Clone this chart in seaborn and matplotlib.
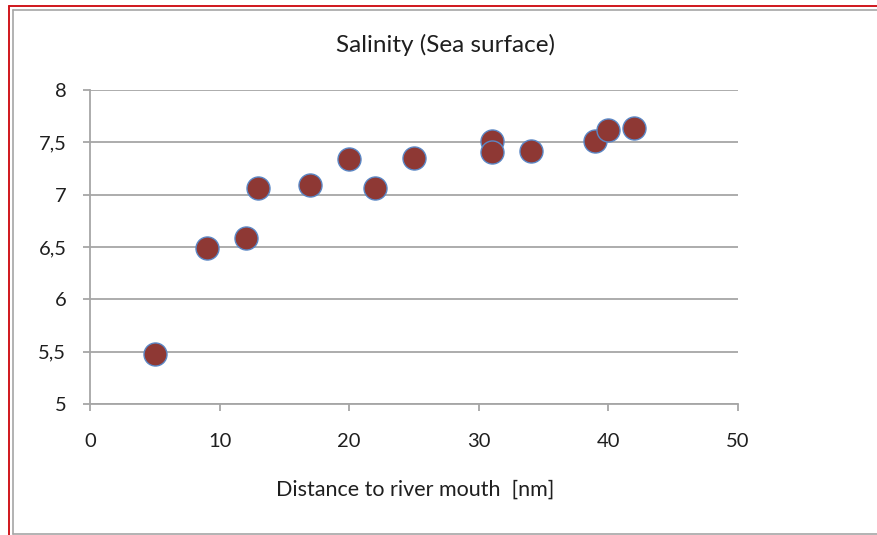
import matplotlib
matplotlib.use("Agg")
import matplotlib.pyplot as plt
from matplotlib.lines import Line2D
import seaborn as sns
import pandas as pd

# Data
distance = [5, 9, 12, 13, 17, 20, 22, 25, 31, 31, 34, 39, 40, 42]
salinity = [5.48, 6.49, 6.59, 7.06, 7.09, 7.34, 7.06, 7.35, 7.51, 7.41, 7.42, 7.51, 7.62, 7.64]
x_ticks = [0, 10, 20, 30, 40, 50]
y_ticks = [5, 5.5, 6, 6.5, 7, 7.5, 8]
y_tick_labels = ["5", "5,5", "6", "6,5", "7", "7,5", "8"]
title = "Salinity (Sea surface)"
x_label = "Distance to river mouth  [nm]"

df = pd.DataFrame({"distance": distance, "salinity": salinity})

sns.set_theme(style="white")
plt.rcParams["font.family"] = ["Lato", "DejaVu Sans"]

W, H = 877, 535
fig = plt.figure(figsize=(W / 100, H / 100), dpi=100)
fig.patch.set_facecolor("white")

ax = fig.add_axes([90 / W, (H - 404) / H, (738 - 90) / W, (404 - 90) / H])
grey = "#A6A6A6"

sns.scatterplot(data=df, x="distance", y="salinity", ax=ax, s=275,
                color="#8E3834", edgecolor="#5B87C5", linewidth=1.0, zorder=3)

ax.set_xlim(0, 50)
ax.set_ylim(5, 8)
ax.set_xticks(x_ticks)
ax.set_xticklabels([str(t) for t in x_ticks])
ax.set_yticks(y_ticks)
ax.set_yticklabels(y_tick_labels)
ax.yaxis.grid(True, color=grey, linewidth=1.3)
ax.xaxis.grid(False)
ax.set_axisbelow(True)
for side in ["top", "right"]:
    ax.spines[side].set_visible(False)
for side in ["left", "bottom"]:
    ax.spines[side].set_color(grey)
    ax.spines[side].set_linewidth(1.3)
ax.tick_params(axis="both", direction="out", length=5, width=1.3, color=grey,
               labelsize=14.5, labelcolor="#1F1F1F")
ax.tick_params(axis="x", pad=16, bottom=True)
ax.tick_params(axis="y", pad=12, left=True)
ax.set_xlabel("")
ax.set_ylabel("")

fig.text(446 / W, 1 - 45 / H, title, ha="center", va="center", fontsize=17.5, color="#1F1F1F")
fig.text(415 / W, 1 - 490 / H, x_label, ha="center", va="center", fontsize=15.5, color="#1F1F1F")

# Frame borders
fig.add_artist(Line2D([9 / W, 1], [1 - 6 / H, 1 - 6 / H], color="#D0161C", linewidth=1.4))
fig.add_artist(Line2D([9 / W, 9 / W], [0, 1 - 6 / H], color="#D0161C", linewidth=1.4))
fig.add_artist(Line2D([12.5 / W, 1], [1 - 9.5 / H, 1 - 9.5 / H], color=grey, linewidth=1.2))
fig.add_artist(Line2D([12.5 / W, 12.5 / W], [1 - 533.5 / H, 1 - 9.5 / H], color=grey, linewidth=1.2))
fig.add_artist(Line2D([12.5 / W, 1], [1 - 533.5 / H, 1 - 533.5 / H], color=grey, linewidth=1.2))

fig.savefig("out.png", dpi=100)
